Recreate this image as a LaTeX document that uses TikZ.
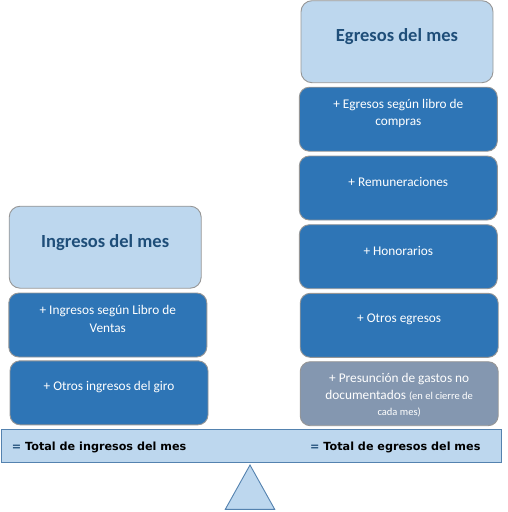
\documentclass[tikz,border=0pt]{standalone}
\usepackage{fontspec}
\setmainfont{Carlito}
\newfontfamily\verdanafont{DejaVu Sans}
\usepackage{tikz}
\definecolor{cHead}{RGB}{189,215,238}
\definecolor{cItem}{RGB}{46,117,182}
\definecolor{cGrey}{RGB}{132,151,176}
\definecolor{cEdge}{RGB}{150,150,150}
\definecolor{cBeam}{RGB}{84,130,175}
\definecolor{cTitle}{RGB}{31,78,121}

\begin{document}
\begin{tikzpicture}[x=1pt, y=-1pt,
  every node/.style={inner sep=0pt, align=center},
  headbox/.style={draw=cEdge, line width=0.9pt, fill=cHead, rounded corners=11pt,
    minimum width=192pt, minimum height=82pt},
  itembox/.style={draw=cEdge, line width=0.9pt, fill=cItem, rounded corners=10pt,
    minimum width=198pt, minimum height=64pt},
  greybox/.style={itembox, fill=cGrey},
  headtext/.style={text=cTitle, font=\fontsize{18.5}{22}\selectfont\bfseries},
  itemtext/.style={text=white, font=\fontsize{13.3}{17.4}\selectfont},
  totaltext/.style={anchor=west, font=\verdanafont\bfseries\fontsize{11.2}{13}\selectfont}]
  \useasboundingbox (0,0) rectangle (508,512);
  % Egresos column
  \node[headbox] (eg) at (397,41.7) {};
  \node[headtext] at ([yshift=5pt]eg.center) {Egresos del mes};
  \node[itembox] (eg1) at (398.3,119.2) {};
  \node[itemtext] at ([yshift=5.5pt]eg1.center) {+ Egresos según libro de\\compras};
  \node[itembox] (eg2) at (398.3,188) {};
  \node[itemtext] at ([yshift=6pt]eg2.center) {+ Remuneraciones};
  \node[itembox] (eg3) at (398.3,256.7) {};
  \node[itemtext] at ([yshift=6pt]eg3.center) {+ Honorarios};
  \node[itembox] (eg4) at (399.2,325.3) {};
  \node[itemtext] at ([yshift=6pt]eg4.center) {+ Otros egresos};
  \node[greybox] (eg5) at (399.2,393.7) {};
  \node[itemtext] at ([yshift=-1.5pt]eg5.center)
    {+ Presunción de gastos no\\documentados {\fontsize{10.5}{15}\selectfont(en el cierre de}\\[-1.5pt]
     {\fontsize{10.5}{15}\selectfont cada mes)}};
  % Ingresos column
  \node[headbox] (in) at (105.2,247.2) {};
  \node[headtext] at ([yshift=4.5pt]in.center) {Ingresos del mes};
  \node[itembox] (in1) at (107.8,325) {};
  \node[itemtext] at ([yshift=6pt]in1.center) {+ Ingresos según Libro de\\Ventas};
  \node[itembox] (in2) at (109,392.8) {};
  \node[itemtext] at ([yshift=6pt]in2.center) {+ Otros ingresos del giro};
  % balance beam
  \node[draw=cBeam, line width=0.9pt, fill=cHead, minimum width=500pt, minimum height=33.4pt] (beam) at (251,446) {};
  \node[totaltext] (totin) at (11.7,447.5) {\textcolor{cTitle}{=} Total de ingresos del mes};
  \node[totaltext] (toteg) at (310,447.5) {\textcolor{cTitle}{=} Total de egresos del mes};
  % pivot
  \draw[cBeam, line width=0.9pt, fill=cHead] (250,465) -- (225.3,509.3) -- (274.7,509.3) -- cycle;
\end{tikzpicture}
\end{document}
